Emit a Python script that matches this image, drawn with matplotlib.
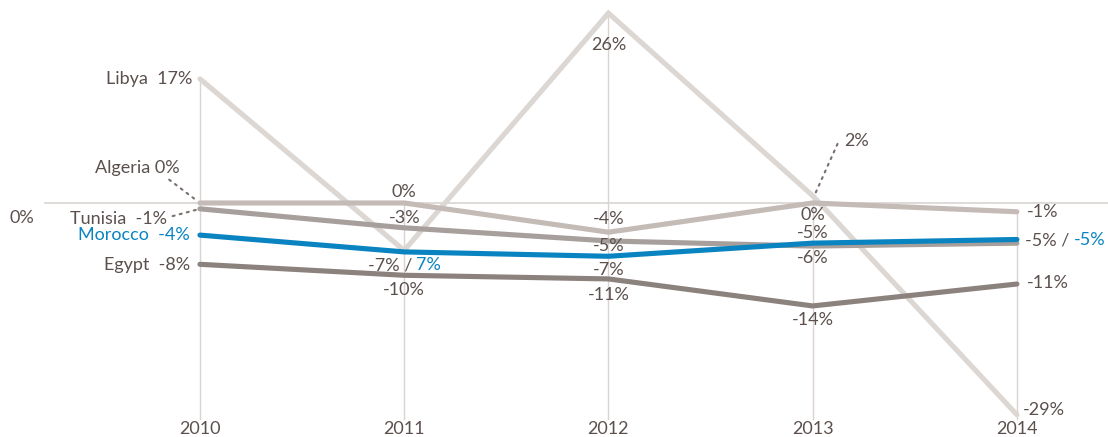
import matplotlib
matplotlib.use("Agg")
import matplotlib.pyplot as plt

plt.rcParams['font.family'] = ['Lato', 'DejaVu Sans']

years = [2010, 2011, 2012, 2013, 2014]
libya = [17, -6.5, 26, 1, -29]
algeria = [0, 0, -4, 0, -1.2]
tunisia = [-0.8, -3.4, -5.2, -5.9, -5.5]
egypt = [-8.4, -9.9, -10.4, -14.1, -11.1]
morocco = [-4.4, -6.7, -7.3, -5.5, -5.0]

series_names = ['Libya', 'Algeria', 'Tunisia', 'Egypt', 'Morocco']
series_vals = [libya, algeria, tunisia, egypt, morocco]
series_cols = ['#dcd7d3', '#c4bbb7', '#a79f9b', '#8b817d', '#0a84c1']

txt = '#5b504d'
blue = '#0a84c1'
grid = '#d9d4d1'
fs = 13

fig = plt.figure(figsize=(11.08, 4.37), dpi=100)
ax = fig.add_axes([0, 0, 1, 1])
ax.set_xlim(2009.021, 2014.446)
ax.set_ylim(-32.05, 27.8)
ax.axis('off')

# vertical guides from the top value of each year down to the axis
for i, yr in enumerate(years):
    top = max(v[i] for v in series_vals)
    ax.plot([yr, yr], [top, -29.6], color=grid, lw=1, zorder=1)
ax.plot([2009.24, 2014.446], [0, 0], color=grid, lw=1.2, zorder=1)

for name, vals, col in zip(series_names, series_vals, series_cols):
    ax.plot(years, vals, color=col, lw=3.7, solid_capstyle='round',
            solid_joinstyle='miter', zorder=3)


def lab(text, x, y, dx, dy, color=txt, ha='center'):
    ax.annotate(text, xy=(x, y), xytext=(dx, dy), textcoords='offset pixels',
                ha=ha, va='center', color=color, fontsize=fs, zorder=5)


dots = dict(arrowstyle='-', ls=(0, (1, 2.5)), color='#7a706c', lw=1.5)

# left side
lab('Libya  17%', 2010, libya[0], -8, 0, ha='right')
lab('Algeria 0%', 2010, algeria[0], -20, 35, ha='right')
lab('Tunisia  -1%', 2010, tunisia[0], -33, -10, ha='right')
lab('Morocco  -4%', 2010, morocco[0], -10, 0, color=blue, ha='right')
lab('Egypt  -8%', 2010, egypt[0], -10, -1, ha='right')
ax.annotate('', xy=(2010, 0), xytext=(-33, 25), textcoords='offset pixels', arrowprops=dots)
ax.annotate('', xy=(2010, tunisia[0]), xytext=(-30, -8), textcoords='offset pixels', arrowprops=dots)
ax.text(2009.021 + 22 / 204.25, -2.0, '0%', ha='center', va='center',
        color=txt, fontsize=fs)

# 2011
lab('0%', 2011, algeria[1], 0, 11)
lab('-3%', 2011, tunisia[1], 0, 10)
lab('-7% /', 2011, libya[1], 8, -15, ha='right')
lab('7%', 2011, libya[1], 12, -15, color=blue, ha='left')
lab('-10%', 2011, egypt[1], 0, -15)

# 2012
lab('26%', 2012, libya[2], 0, -32)
lab('-4%', 2012, algeria[2], 0, 13)
lab('-5%', 2012, tunisia[2], 0, -5)
lab('-7%', 2012, morocco[2], 0, -14)
lab('-11%', 2012, egypt[2], 0, -16)

# 2013
lab('2%', 2013, libya[3], 44, 55)
ax.annotate('', xy=(2013, libya[3] - 0.5), xytext=(26, 58), textcoords='offset pixels', arrowprops=dots)
lab('0%', 2013, algeria[3], 0, -12)
lab('-5%', 2013, morocco[3], 0, 10)
lab('-6%', 2013, tunisia[3], 0, -12)
lab('-14%', 2013, egypt[3], 0, -14)

# 2014
lab('-1%', 2014, algeria[4], 10, 0, ha='left')
lab('-5% /', 2014, morocco[4], 8, -1, ha='left')
lab('-5%', 2014, morocco[4], 57, -1, color=blue, ha='left')
lab('-11%', 2014, egypt[4], 10, 1, ha='left')
lab('-29%', 2014, libya[4], 6, 5, ha='left')

for yr in years:
    ax.text(yr, -31.6, str(yr), ha='center', va='baseline', color=txt, fontsize=fs)

fig.savefig('out.png', dpi=100)
